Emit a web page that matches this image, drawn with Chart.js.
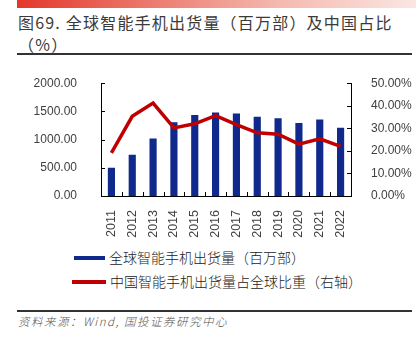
<!DOCTYPE html>
<html>
<head>
<meta charset="utf-8">
<script src="https://cdn.jsdelivr.net/npm/chart.js@4"></script>
<style>
  body { margin: 0; background: #fff; width: 416px; height: 342px; overflow: hidden; position: relative; font-family: "Noto Sans CJK SC", sans-serif; }
  .topbar { position: absolute; left: 17px; top: 0; width: 399px; height: 8px; background: linear-gradient(to right, #e4372a, #f4b8ae 65%, #fbe6e3); }
  .title { position: absolute; left: 18px; top: 11px; font-size: 16px; line-height: 22px; color: #3a3a3a; letter-spacing: 1.2px; font-weight: 400; }
  .rule { position: absolute; left: 17px; width: 395px; height: 1.5px; background: #333; }
  .legend { position: absolute; left: 74px; font-size: 14px; color: #222; line-height: 18px; font-weight: 300; }
  .sw { display: inline-block; width: 31px; height: 4px; vertical-align: middle; margin-right: 4px; margin-top: -3px; }
  .source { position: absolute; left: 18px; top: 313px; font-size: 11.5px; color: #555; font-style: italic; letter-spacing: 1.5px; font-weight: 300; }
  #wrap { position: absolute; left: 0; top: 60px; }
</style>
</head>
<body>
<div class="topbar"></div>
<div class="title">图69. 全球智能手机出货量（百万部）及中国占比<br>（%）</div>
<div class="rule" style="top:53px"></div>
<div id="wrap"><canvas id="c" width="416" height="185"></canvas></div>
<div class="legend" style="top:248px"><span class="sw" style="background:#10298c"></span>全球智能手机出货量（百万部）</div>
<div class="legend" style="top:272px;left:72px"><span class="sw" style="background:#c00000;width:34px"></span>中国智能手机出货量占全球比重（右轴）</div>
<div class="rule" style="top:310px"></div>
<div class="source">资料来源：Wind, 国投证券研究中心</div>
<script>
const years = ['2011', '2012', '2013', '2014', '2015', '2016', '2017', '2018', '2019', '2020', '2021', '2022'];
// 全球出货量（百万部）
const globalShipments = [494.6, 725.3, 1012, 1301.7, 1432, 1475, 1458, 1400, 1372, 1290, 1352, 1206];
// 中国占比（%）
const chinaShare = [19.1, 35.3, 41.2, 30.2, 32.0, 35.6, 31.6, 28.0, 27.4, 23.0, 25.3, 22.0];
const leftTicks = [0, 500, 1000, 1500, 2000];
const rightTicks = [0, 10, 20, 30, 40, 50];

// 刻度线朝内
const innerTicks = {
  id: 'innerTicks',
  afterDraw(chart) {
    const ctx = chart.ctx;
    const y = chart.scales.y, y1 = chart.scales.y1, x = chart.scales.x;
    const a = chart.chartArea;
    ctx.save();
    ctx.strokeStyle = '#000';
    ctx.lineWidth = 1;
    ctx.beginPath();
    leftTicks.forEach(v => {
      const py = Math.round(y.getPixelForValue(v)) + 0.5;
      ctx.moveTo(a.left, py); ctx.lineTo(a.left + 4, py);
    });
    rightTicks.forEach(v => {
      const py = Math.round(y1.getPixelForValue(v)) + 0.5;
      ctx.moveTo(a.right - 4, py); ctx.lineTo(a.right, py);
    });
    const half = (x.getPixelForValue(1) - x.getPixelForValue(0)) / 2;
    for (let i = 1; i < years.length; i++) {
      const px = Math.round(x.getPixelForValue(i) - half) + 0.5;
      ctx.moveTo(px, a.bottom); ctx.lineTo(px, a.bottom - 4);
    }
    ctx.stroke();
    ctx.restore();
  }
};

Chart.defaults.font.family = '"Liberation Sans", Arial, sans-serif';
Chart.defaults.font.size = 12;
Chart.defaults.color = '#404040';

new Chart(document.getElementById('c'), {
  data: {
    labels: years,
    datasets: [{
      type: 'line',
      label: '中国智能手机出货量占全球比重（右轴）',
      data: chinaShare,
      yAxisID: 'y1',
      borderColor: '#c00000',
      borderWidth: 3.5,
      pointRadius: 0,
      tension: 0,
      order: 0
    }, {
      type: 'bar',
      label: '全球智能手机出货量（百万部）',
      data: globalShipments,
      yAxisID: 'y',
      backgroundColor: '#10298c',
      barThickness: 6.5,
      order: 1
    }]
  },
  options: {
    responsive: false,
    animation: false,
    layout: { padding: { top: 20, left: 0, right: 0, bottom: 0 } },
    plugins: { legend: { display: false }, tooltip: { enabled: false } },
    scales: {
      x: {
        offset: true,
        grid: { display: false },
        border: { display: true, color: '#000', width: 1 },
        ticks: { minRotation: 90, maxRotation: 90, autoSkip: false, padding: 6, font: { size: 12.5 } },
        afterFit: s => { s.height = 49; }
      },
      y: {
        position: 'left',
        min: 0, max: 2000,
        grid: { display: false },
        border: { display: true, color: '#000', width: 1 },
        ticks: { stepSize: 500, padding: 16, callback: v => v.toFixed(2) },
        afterFit: s => { s.width = 101; }
      },
      y1: {
        position: 'right',
        min: 0, max: 50,
        grid: { display: false },
        border: { display: true, color: '#000', width: 1 },
        ticks: { stepSize: 10, padding: 12, callback: v => v.toFixed(2) + '%' },
        afterFit: s => { s.width = 65; }
      }
    }
  },
  plugins: [innerTicks]
});
</script>
</body>
</html>
